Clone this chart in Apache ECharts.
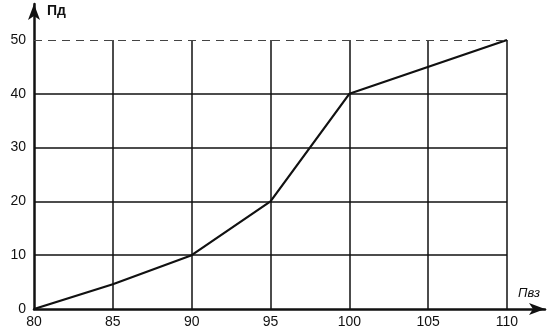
<!DOCTYPE html>
<html>
<head>
<meta charset="utf-8">
<script src="https://cdn.jsdelivr.net/npm/echarts@6/dist/echarts.min.js"></script>
<style>
  html, body { margin: 0; padding: 0; background: #fff; }
  #chart { width: 552px; height: 333px; }
</style>
</head>
<body>
<div id="chart"></div>
<script>
// values
const pvz = [80, 85, 90, 95, 100, 110];
const pd = [0, 4.6, 10, 20, 40, 50];
const xTicks = [80, 85, 90, 95, 100, 105, 110];
const yTicks = [0, 10, 20, 30, 40, 50];

const font = 'Liberation Sans, Arial, sans-serif';
const ink = '#111';

let chart = echarts.init(document.getElementById('chart'));

chart.setOption({
    animation: false,
    backgroundColor: '#fff',
    grid: [
        { left: 34, right: 45, top: 40, bottom: 24 },
        // wider grid only for the arrowed axis lines
        { left: 34, right: 7, top: 4, bottom: 24 }
    ],
    xAxis: [{
        gridIndex: 0,
        type: 'value',
        min: xTicks[0],
        max: xTicks[xTicks.length - 1],
        interval: 5,
        axisLine: { show: false },
        axisTick: { show: false },
        axisLabel: { color: ink, fontFamily: font, fontSize: 14, margin: 6 },
        splitLine: {
            show: true, showMinLine: false, showMaxLine: true,
            lineStyle: { color: ink, width: 1.5, type: 'solid' }
        }
    }, {
        gridIndex: 1,
        type: 'value',
        min: 0, max: 1,
        axisLine: { show: true, symbol: ['none', 'arrow'], symbolSize: [9, 16],
            lineStyle: { color: ink, width: 2.5 } },
        axisTick: { show: false },
        axisLabel: { show: false },
        splitLine: { show: false }
    }],
    yAxis: [{
        gridIndex: 0,
        type: 'value',
        min: yTicks[0],
        max: yTicks[yTicks.length - 1],
        interval: 10,
        axisLine: { show: false },
        axisTick: { show: false },
        axisLabel: { color: ink, fontFamily: font, fontSize: 14, margin: 8 },
        splitLine: {
            show: true, showMinLine: false, showMaxLine: false,
            lineStyle: { color: ink, width: 1.5, type: 'solid' }
        }
    }, {
        gridIndex: 1,
        type: 'value',
        min: 0, max: 1,
        axisLine: { show: true, symbol: ['none', 'arrow'], symbolSize: [9, 16],
            lineStyle: { color: ink, width: 2.5 } },
        axisTick: { show: false },
        axisLabel: { show: false },
        splitLine: { show: false }
    }],
    graphic: [
        { type: 'text', left: 47, top: 4,
          style: { text: 'Пд', fontFamily: font, fontSize: 14, fontWeight: 'bold', fill: ink } },
        { type: 'text', left: 518, top: 287,
          style: { text: 'Пвз', fontFamily: font, fontSize: 13, fontStyle: 'italic', fill: ink } }
    ],
    series: [{
        type: 'line',
        xAxisIndex: 0,
        yAxisIndex: 0,
        data: pvz.map((x, i) => [x, pd[i]]),
        symbol: 'none',
        lineStyle: { color: ink, width: 2.2 },
        markLine: {
            silent: true,
            symbol: 'none',
            label: { show: false },
            lineStyle: { color: '#444', width: 1, type: [8, 6] },
            data: [{ yAxis: yTicks[yTicks.length - 1] }]
        }
    }]
});
</script>
</body>
</html>
